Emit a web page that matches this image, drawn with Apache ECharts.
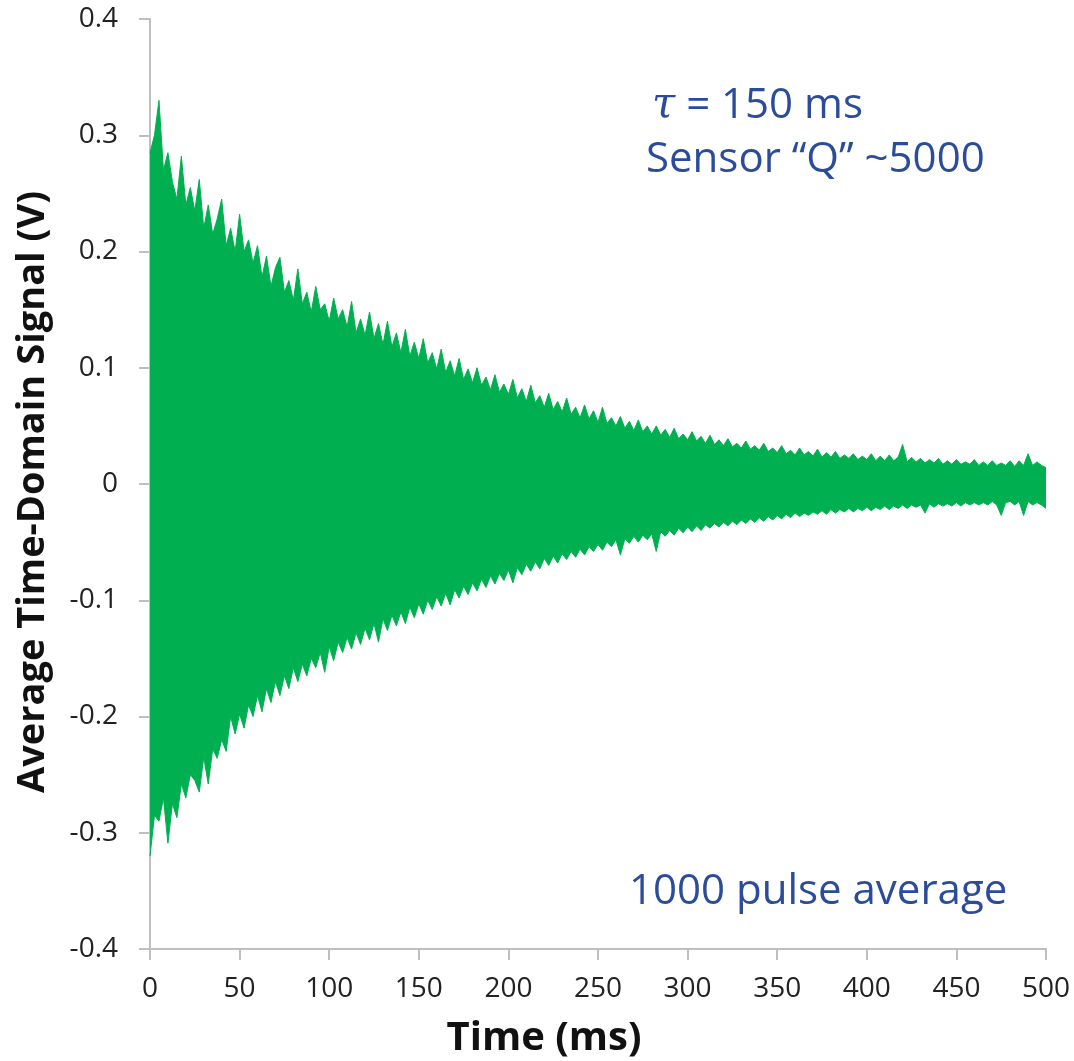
<!DOCTYPE html>
<html>
<head>
<meta charset="utf-8">
<script src="https://cdn.jsdelivr.net/npm/echarts@6/dist/echarts.min.js"></script>
<style>html,body{margin:0;padding:0;background:#fff}#c{width:1074px;height:1061px}</style>
</head>
<body>
<div id="c"></div>
<script>
// sampling step of the envelope readings (ms); readings start at 0 ms
var stepMs = 2.5;
// upper envelope of the signal (V), every 2.5 ms (0 .. 500 ms)
var upperEnv = [
  0.285,0.30,0.33,0.27,0.285,0.26,0.245,0.282,0.24,0.255,0.235,0.262,0.22,0.24,0.215,0.228,0.245,0.205,0.22,0.2,
  0.232,0.2,0.21,0.19,0.205,0.178,0.196,0.17,0.186,0.195,0.165,0.175,0.158,0.185,0.155,0.165,0.148,0.17,0.15,0.155,
  0.14,0.16,0.142,0.15,0.135,0.157,0.13,0.142,0.128,0.148,0.125,0.138,0.12,0.14,0.118,0.13,0.113,0.133,0.11,0.122,
  0.108,0.125,0.104,0.113,0.099,0.116,0.096,0.106,0.093,0.108,0.09,0.099,0.087,0.1,0.085,0.092,0.081,0.094,0.079,0.086,
  0.077,0.09,0.074,0.082,0.071,0.085,0.07,0.076,0.066,0.078,0.064,0.071,0.062,0.074,0.06,0.066,0.057,0.068,0.056,0.063,
  0.053,0.066,0.052,0.057,0.05,0.058,0.048,0.054,0.046,0.055,0.045,0.05,0.043,0.05,0.042,0.047,0.04,0.048,0.039,0.043,
  0.038,0.045,0.037,0.041,0.035,0.042,0.034,0.038,0.033,0.039,0.032,0.035,0.031,0.037,0.03,0.033,0.029,0.035,0.028,0.031,
  0.027,0.033,0.026,0.029,0.025,0.031,0.025,0.028,0.024,0.03,0.023,0.027,0.023,0.028,0.022,0.025,0.022,0.026,0.021,0.024,
  0.021,0.026,0.02,0.024,0.02,0.025,0.02,0.023,0.034,0.019,0.023,0.019,0.022,0.018,0.021,0.018,0.022,0.017,0.02,0.017,
  0.021,0.017,0.019,0.017,0.021,0.016,0.019,0.016,0.02,0.016,0.018,0.016,0.02,0.015,0.02,0.016,0.026,0.016,0.019,0.016,
  0.014
];
// lower envelope of the signal (V), every 2.5 ms (0 .. 500 ms)
var lowerEnv = [
  -0.32,-0.285,-0.29,-0.27,-0.309,-0.275,-0.287,-0.258,-0.27,-0.25,-0.255,-0.265,-0.235,-0.258,-0.228,-0.236,-0.22,-0.23,-0.2,-0.215,
  -0.198,-0.21,-0.19,-0.2,-0.182,-0.196,-0.176,-0.188,-0.17,-0.182,-0.165,-0.176,-0.158,-0.17,-0.155,-0.165,-0.15,-0.158,-0.145,-0.162,
  -0.14,-0.152,-0.136,-0.145,-0.132,-0.142,-0.128,-0.138,-0.124,-0.134,-0.12,-0.136,-0.116,-0.126,-0.113,-0.122,-0.11,-0.12,-0.106,-0.115,
  -0.103,-0.112,-0.1,-0.108,-0.097,-0.105,-0.094,-0.104,-0.091,-0.098,-0.088,-0.095,-0.085,-0.092,-0.082,-0.089,-0.079,-0.086,-0.077,-0.083,
  -0.074,-0.085,-0.072,-0.078,-0.069,-0.075,-0.067,-0.073,-0.064,-0.07,-0.062,-0.068,-0.06,-0.065,-0.058,-0.063,-0.056,-0.061,-0.054,-0.058,
  -0.052,-0.057,-0.05,-0.054,-0.048,-0.061,-0.047,-0.051,-0.045,-0.05,-0.044,-0.048,-0.043,-0.058,-0.041,-0.045,-0.04,-0.044,-0.038,-0.042,
  -0.037,-0.041,-0.036,-0.04,-0.035,-0.038,-0.034,-0.037,-0.033,-0.036,-0.032,-0.035,-0.031,-0.034,-0.03,-0.033,-0.029,-0.032,-0.028,-0.031,
  -0.027,-0.03,-0.026,-0.029,-0.025,-0.028,-0.025,-0.027,-0.024,-0.026,-0.023,-0.026,-0.022,-0.025,-0.022,-0.024,-0.021,-0.024,-0.021,-0.023,
  -0.02,-0.023,-0.02,-0.022,-0.019,-0.022,-0.019,-0.021,-0.018,-0.021,-0.018,-0.02,-0.018,-0.025,-0.017,-0.02,-0.017,-0.019,-0.017,-0.019,
  -0.016,-0.019,-0.016,-0.018,-0.016,-0.018,-0.016,-0.018,-0.015,-0.018,-0.027,-0.016,-0.015,-0.018,-0.015,-0.027,-0.015,-0.018,-0.016,-0.018,
  -0.021
];
var xTicks = [0,50,100,150,200,250,300,350,400,450,500];
var yTicks = [-0.4,-0.3,-0.2,-0.1,0,0.1,0.2,0.3,0.4];
var xTitle = 'Time (ms)';
var yTitle = 'Average Time-Domain Signal (V)';
var noteTau = '150 ms';
var noteQ = 'Sensor “Q” ~5000';
var notePulse = '1000 pulse average';

var GREEN = '#00B050';
var BLUE = '#2B4C9B';
var chart = echarts.init(document.getElementById('c'), null, {renderer:'canvas'});
var upperData = upperEnv.map(function(v,i){return [i*stepMs, v];});
var lowerData = lowerEnv.map(function(v,i){return [i*stepMs, v];});
var axisCol = '#BFBFBF';
chart.setOption({
  animation:false,
  backgroundColor:'#fff',
  grid:{left:150,right:28,top:19,bottom:112},
  xAxis:{type:'value',min:xTicks[0],max:xTicks[xTicks.length-1],interval:50,
    axisLine:{onZero:false,lineStyle:{color:axisCol,width:2}},
    axisTick:{show:true,length:11,lineStyle:{color:axisCol,width:2}},
    splitLine:{show:false},
    axisLabel:{color:'#222',fontSize:28,fontFamily:'Open Sans',margin:26}
  },
  yAxis:{type:'value',min:yTicks[0],max:yTicks[yTicks.length-1],interval:0.1,
    axisLine:{show:true,lineStyle:{color:axisCol,width:2}},
    axisTick:{show:true,length:11,lineStyle:{color:axisCol,width:2}},
    splitLine:{show:false},
    axisLabel:{color:'#222',fontSize:28,fontFamily:'Open Sans',margin:32,
      formatter:function(v){return Math.abs(v)<1e-9?'0':v.toFixed(1);}}
  },
  series:[
    {type:'line',data:upperData,showSymbol:false,lineStyle:{color:GREEN,width:1},areaStyle:{color:GREEN,opacity:1},z:2},
    {type:'line',data:lowerData,showSymbol:false,lineStyle:{color:GREEN,width:1},areaStyle:{color:GREEN,opacity:1},z:2}
  ],
  graphic:[
    {type:'text',x:544,y:1039,style:{text:xTitle,font:'bold 40px "Open Sans"',fill:'#111',align:'center',verticalAlign:'middle'}},
    {type:'text',x:33,y:492,rotation:Math.PI/2,style:{text:yTitle,font:'bold 38px "Open Sans"',fill:'#111',align:'center',verticalAlign:'middle'}},
    {type:'text',x:652,y:106,style:{rich:{t:{font:'italic 42px "DejaVu Serif"',fill:BLUE},n:{font:'42px "Open Sans"',fill:BLUE}},text:'{t|τ}{n| = '+noteTau+'}',verticalAlign:'middle'}},
    {type:'text',x:646,y:160,style:{text:noteQ,font:'42px "Open Sans"',fill:BLUE,verticalAlign:'middle'}},
    {type:'text',x:629,y:892,style:{text:notePulse,font:'42px "Open Sans"',fill:BLUE,verticalAlign:'middle'}}
  ]
});
</script>
</body>
</html>
